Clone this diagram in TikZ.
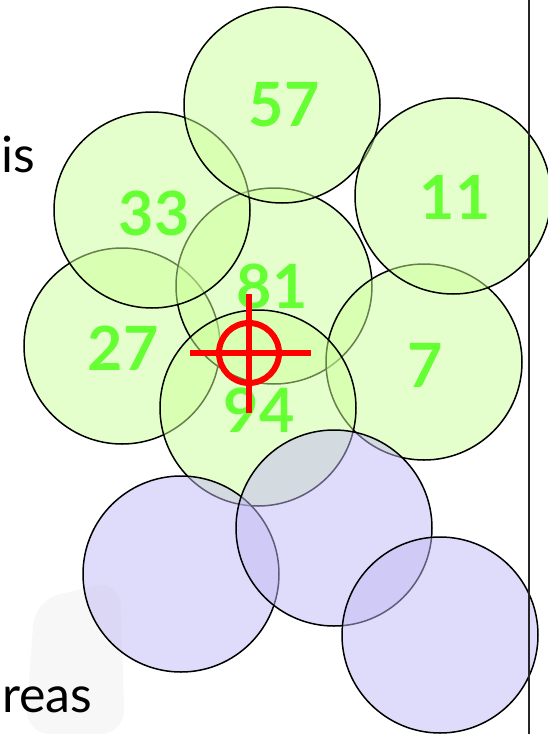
\documentclass[tikz,border=0pt]{standalone}
\usepackage{fontspec}
\setmainfont{Lato}
\begin{document}
\begin{tikzpicture}[x=1pt,y=-1pt,
  zone/.style={circle,inner sep=0pt,minimum size=196pt,line width=1.5pt,draw=black,fill opacity=0.5,text opacity=1},
  gzone/.style={zone,fill={rgb,255:red,204;green,255;blue,153}},
  pzone/.style={zone,fill={rgb,255:red,192;green,184;blue,245}},
  num/.style={text={rgb,255:red,102;green,255;blue,51},font=\fontsize{61}{61}\selectfont\bfseries,inner sep=0pt},
  word/.style={font=\fontsize{50}{50}\selectfont,inner sep=0pt,text=black},
  cross/.style={draw=red,line width=6pt}
]
\useasboundingbox (0,0) rectangle (547,734);
\fill[black!3,rounded corners=25pt] (35,600) -- (120,580) -- (125,734) -- (25,734) -- cycle;
% green circles
\node[gzone] (c27) at (122,346) {};
\node[gzone] (c81) at (274,286) {};
\node[gzone] (c33) at (152,210) {};
\node[gzone] (c57) at (282,105) {};
\node[gzone] (c7)  at (424,362) {};
\node[gzone] (c11) at (453,196) {};
\node[gzone] (c94) at (258,408) {};
% purple circles
\node[pzone] (p1) at (181,574) {};
\node[pzone] (p2) at (334,528) {};
\node[pzone] (p3) at (440,635) {};
% numbers
\node[num] (n57) at (284,105) {57};
\node[num] (n33) at (154,213) {33};
\node[num] (n11) at (455,197) {11};
\node[num] (n81) at (272,286) {81};
\node[num] (n27) at (123,348) {27};
\node[num] (n7)  at (425,365) {7};
\node[num] (n94) at (259,410) {94};
% crosshair
\coordinate (x0) at (249,353);
\draw[cross] (x0) circle (30);
\coordinate (xl) at (190,353);
\coordinate (xr) at (311,353);
\coordinate (xt) at (249,294);
\coordinate (xb) at (249,413);
\draw[cross] (xl) -- (xr);
\draw[cross] (xt) -- (xb);
% vertical rule
\coordinate (v1) at (529,0);
\coordinate (v2) at (529,734);
\draw[line width=1.5pt,black!85] (v1) -- (v2);
% partial words
\node[word,anchor=base east] (wis) at (35,172) {is};
\node[word,anchor=base west] (wreas) at (2,712) {reas};
\end{tikzpicture}
\end{document}
